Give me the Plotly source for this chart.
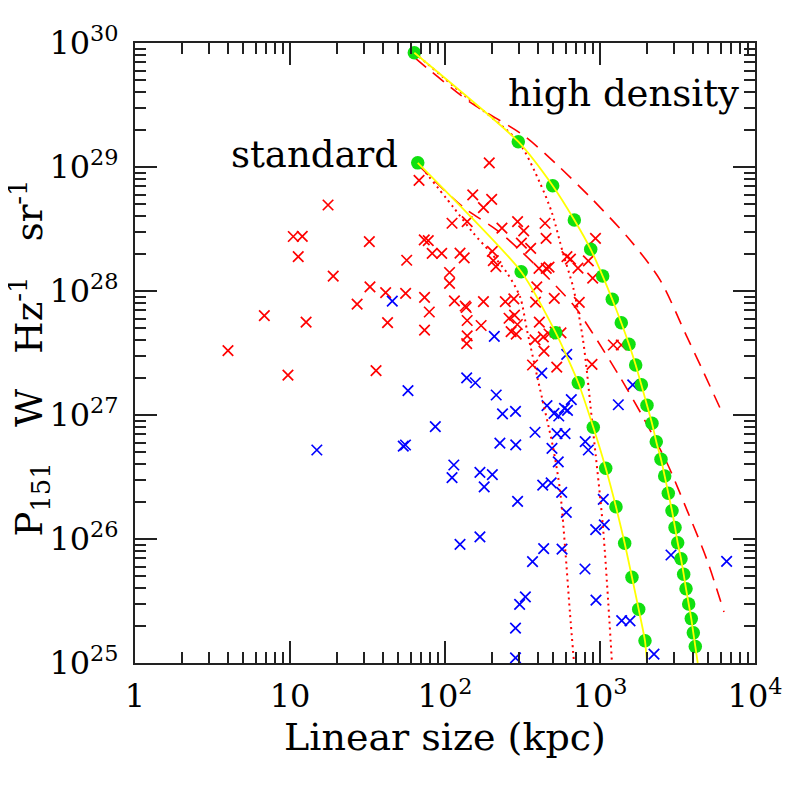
import plotly.graph_objects as go

# ---------------- data ----------------
x_tick_vals = [1, 10, 100, 1000, 10000]
x_tick_text = ["1", "10", "10<sup>2</sup>", "10<sup>3</sup>", "10<sup>4</sup>"]
y_tick_vals = [1e25, 1e26, 1e27, 1e28, 1e29, 1e30]
y_tick_text = ["10<sup>25</sup>", "10<sup>26</sup>", "10<sup>27</sup>",
               "10<sup>28</sup>", "10<sup>29</sup>", "10<sup>30</sup>"]

# observed sources, red crosses (linear size kpc, P151 W/Hz/sr)
red_size = [3.98, 6.83, 9.70, 10.5, 12.0, 11.3, 12.7, 17.6, 19.0, 27.1, 32.5, 32.8, 35.9,
            41.4, 42.6, 55.7, 56.6, 68.0, 73.5, 78.0, 73.8, 79.2, 73.8, 82.7, 95.2, 111,
            107, 107, 115, 125, 133, 139, 135, 137, 139, 139, 138, 151, 177, 200, 193, 171,
            177, 202, 205, 213, 233, 245, 278, 259, 281, 293, 267, 288, 294, 322, 311, 357,
            391, 384, 406, 381, 431, 469, 513, 560, 435, 367, 526, 442, 449, 404, 450, 469,
            507, 612, 645, 721, 841, 935, 897, 735, 888, 1219, 1372]
red_power = [3.31e27, 6.32e27, 2.10e27, 2.75e28, 2.76e28, 1.89e28, 5.60e27, 4.94e28, 1.32e28,
             7.85e27, 2.50e28, 1.08e28, 2.28e27, 9.72e27, 5.55e27, 9.58e27, 1.77e28, 7.79e28,
             2.58e28, 2.55e28, 8.87e27, 6.77e27, 4.84e27, 2.01e28, 2.01e28, 3.52e28, 1.41e28,
             1.15e28, 8.34e27, 2.02e28, 1.85e28, 3.62e28, 7.57e27, 7.36e27, 5.78e27, 4.34e27,
             3.77e27, 5.95e28, 4.71e28, 5.49e28, 1.08e29, 5.27e27, 8.20e27, 2.09e28, 1.76e28,
             1.57e28, 3.22e28, 8.20e27, 8.65e27, 6.03e27, 6.40e27, 5.37e27, 4.70e27, 4.49e27,
             3.62e28, 3.05e28, 2.43e28, 2.21e28, 1.08e28, 8.13e27, 5.60e27, 4.03e27, 4.26e27,
             4.50e27, 4.67e27, 4.59e27, 3.28e27, 2.53e27, 2.43e27, 3.52e28, 2.66e28, 1.52e28,
             1.52e28, 1.56e28, 8.73e27, 1.89e28, 1.81e28, 1.53e28, 1.75e28, 2.66e28, 1.27e28,
             8.11e27, 2.56e27, 3.67e27, 3.67e27]

# observed sources, blue crosses
blue_size = [14.9, 45.7, 57.7, 53.8, 55.6, 86.6, 114, 111, 125, 138, 157, 214, 208, 235, 285,
             226, 286, 168, 202, 179, 294, 168, 367, 303, 330, 285, 285, 421, 381, 455, 505,
             542, 590, 617, 653, 528, 595, 490, 538, 427, 484, 566, 606, 433, 569, 610, 803,
             841, 1050, 938, 1066, 800, 942, 1380, 1562, 2230, 1313, 1626, 2871, 6560]
blue_power = [5.22e26, 8.30e27, 1.57e27, 5.62e26, 5.73e26, 8.05e26, 3.95e26, 3.13e26, 9.06e25,
              1.99e27, 1.82e27, 1.45e27, 4.30e27, 1.02e27, 1.07e27, 5.94e26, 5.75e26, 3.45e26,
              3.30e26, 2.63e26, 2.01e26, 1.04e26, 6.56e25, 2.97e25, 3.41e25, 1.91e25, 1.10e25,
              2.18e27, 7.26e26, 1.19e27, 1.03e27, 9.82e26, 1.13e27, 1.09e27, 1.33e27, 7.07e26,
              7.07e26, 5.39e26, 4.18e26, 2.72e26, 2.84e26, 2.38e26, 1.64e26, 8.37e25, 8.30e25,
              3.08e27, 6.09e26, 5.22e26, 2.09e26, 1.19e26, 1.30e26, 5.73e25, 3.22e25, 2.20e25,
              2.19e25, 1.18e25, 1.21e27, 1.75e27, 7.43e25, 6.61e25]

# model evolutionary tracks (green dots + yellow line)
std_size = [66.7, 310, 518, 724, 905, 1089, 1268, 1443, 1608, 1777, 1951]
std_power = [1.08e29, 1.43e28, 4.61e27, 1.82e27, 7.96e26, 3.72e26, 1.82e26, 9.23e25,
             4.91e25, 2.71e25, 1.51e25]
std_line_end = (2010, 1e25)

hd_size = [63.4, 297, 495, 683, 871, 1041, 1200, 1372, 1538, 1699, 1848, 2010, 2165, 2307,
           2475, 2614, 2758, 2915, 3048, 3171, 3331, 3467, 3589, 3735, 3880, 4000, 4120]
hd_power = [8.35e29, 1.60e29, 7.07e28, 3.74e28, 2.17e28, 1.32e28, 8.57e27, 5.55e27, 3.72e27,
            2.53e27, 1.75e27, 1.20e27, 8.57e26, 6.09e26, 4.39e26, 3.22e26, 2.34e26, 1.69e26,
            1.24e26, 9.33e25, 6.93e25, 5.19e25, 3.97e25, 2.99e25, 2.28e25, 1.75e25, 1.36e25]
hd_line_end = (4270, 1e25)

# dashed model curves
std_dash_size = [67, 131, 216, 319, 476, 690, 929, 1346, 1893, 2706, 3640, 4900, 6310]
std_dash_power = [1.04e29, 4.75e28, 3.10e28, 2.02e28, 1.23e28, 7.43e27, 4.26e27, 2.02e27,
                  9.64e26, 4.10e26, 1.71e26, 6.78e25, 2.58e25]
hd_dash_size = [64, 145, 319, 513, 901, 1562, 2439, 3640, 4620, 5945]
hd_dash_power = [7.57e29, 3.34e29, 1.81e29, 1.08e29, 5.42e28, 2.58e28, 1.23e28, 4.26e27,
                 2.26e27, 1.14e27]

# dotted model curves
std_dot_size = [67, 113, 152, 195, 251, 305, 338, 398, 497, 552, 595, 640, 680]
std_dot_power = [1.08e29, 4.75e28, 2.94e28, 2.07e28, 1.40e28, 8.96e27, 4.84e27, 1.91e27,
                 5.53e26, 2.48e26, 8.61e25, 2.53e25, 1.0e25]
hd_dot_size = [63.4, 137, 297, 410, 490, 577, 670, 777, 901, 1045, 1195]
hd_dot_power = [8.35e29, 3.67e29, 1.60e29, 7.43e28, 4.26e28, 2.02e28, 1.08e28, 4.03e27,
                7.57e26, 1.25e26, 1.0e25]

labels = ["standard", "high density"]
x_title = "Linear size (kpc)"
y_title = "P<sub>151</sub>   W   Hz<sup>-1</sup>   sr<sup>-1</sup>"

# ---------------- figure ----------------
FONT = "DejaVu Serif"
AX = "#222222"
RED = "#ff0000"

fig = go.Figure()

fig.add_trace(go.Scatter(x=red_size, y=red_power, mode="markers",
                         marker=dict(symbol="x-thin", size=10.5,
                                     line=dict(width=1.7, color=RED)),
                         showlegend=False))
fig.add_trace(go.Scatter(x=blue_size, y=blue_power, mode="markers",
                         marker=dict(symbol="x-thin", size=10.5,
                                     line=dict(width=1.7, color="#0000ff")),
                         showlegend=False))

for xs, ys in [(std_dash_size, std_dash_power), (hd_dash_size, hd_dash_power)]:
    fig.add_trace(go.Scatter(x=xs, y=ys, mode="lines",
                             line=dict(color=RED, width=1.6, dash="14px,9px", shape="spline",
                                       smoothing=0.8),
                             showlegend=False))
for xs, ys in [(std_dot_size, std_dot_power), (hd_dot_size, hd_dot_power)]:
    fig.add_trace(go.Scatter(x=xs, y=ys, mode="lines",
                             line=dict(color=RED, width=2, dash="2px,4px", shape="spline",
                                       smoothing=0.8),
                             showlegend=False))

for xs, ys, end in [(std_size, std_power, std_line_end), (hd_size, hd_power, hd_line_end)]:
    fig.add_trace(go.Scatter(x=xs, y=ys, mode="markers",
                             marker=dict(symbol="circle", size=13.5, color="#10e010",
                                         line=dict(width=0)),
                             showlegend=False))
    fig.add_trace(go.Scatter(x=xs + [end[0]], y=ys + [end[1]], mode="lines",
                             line=dict(color="#ffff00", width=1.8, shape="spline",
                                       smoothing=0.6),
                             showlegend=False))

minor_x = [m * 10 ** k for k in range(0, 4) for m in range(2, 10)]
minor_y = [m * 10.0 ** k for k in range(25, 30) for m in range(2, 10)]

axis_common = dict(type="log", showline=True, linecolor=AX, linewidth=2, mirror="ticks",
                   ticks="inside", ticklen=22, tickwidth=2, tickcolor=AX,
                   tickmode="array", showgrid=False, zeroline=False, automargin=False,
                   tickfont=dict(family=FONT, size=32, color="black"))

fig.update_xaxes(**axis_common, range=[0, 4], tickvals=x_tick_vals, ticktext=x_tick_text,
                 ticklabelstandoff=4,
                 minor=dict(ticks="inside", ticklen=11, tickwidth=2, tickcolor=AX,
                            tickmode="array", tickvals=minor_x, showgrid=False),
                 title=dict(text=x_title, standoff=2,
                            font=dict(family=FONT, size=38, color="black")))
fig.update_yaxes(**axis_common, range=[25, 30], tickvals=y_tick_vals, ticktext=y_tick_text,
                 ticklabelstandoff=8,
                 minor=dict(ticks="inside", ticklen=11, tickwidth=2, tickcolor=AX,
                            tickmode="array", tickvals=minor_y, showgrid=False))

# y-axis title as a rotated annotation (placed left of the tick labels)
fig.add_annotation(text=y_title, xref="paper", yref="paper", x=-0.17, y=0.492,
                   xanchor="center", yanchor="middle", textangle=-90, showarrow=False,
                   font=dict(family=FONT, size=37, color="black"))

fig.add_annotation(text=labels[0], xref="paper", yref="paper", x=0.428, y=0.8205,
                   xanchor="right", yanchor="middle", showarrow=False,
                   font=dict(family=FONT, size=37, color="black"))
fig.add_annotation(text=labels[1], xref="paper", yref="paper", x=0.978, y=0.919,
                   xanchor="right", yanchor="middle", showarrow=False,
                   font=dict(family=FONT, size=37, color="black"))

# page body has an 8px offset, so the figure is 789 px and the margins are shifted by 8
fig.update_layout(width=789, height=789,
                  margin=dict(l=127, r=42, t=35, b=134, autoexpand=False),
                  paper_bgcolor="white", plot_bgcolor="white")

fig.write_html("out.html")
